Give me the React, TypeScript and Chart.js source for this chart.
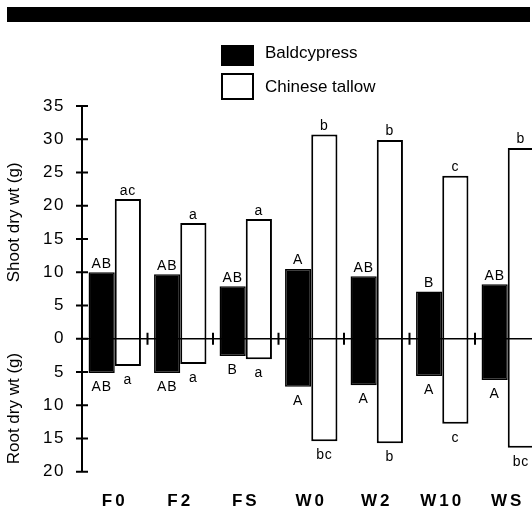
import React, { useEffect, useRef } from "react";
import { Chart, registerables } from "chart.js";

Chart.register(...registerables);

const groups = ["F0", "F2", "FS", "W0", "W2", "W10", "WS"];
const seriesNames = ["Baldcypress", "Chinese tallow"];
const shootBaldcypress = [10, 9.7, 7.9, 10.5, 9.4, 7.1, 8.2];
const rootBaldcypress = [5.15, 5.15, 2.6, 7.2, 7.0, 5.6, 6.2];
const shootTallow = [21, 17.4, 18, 30.7, 29.9, 24.5, 28.7];
const rootTallow = [4.1, 3.8, 3.1, 15.4, 15.7, 12.8, 16.4];
const shootLettersBaldcypress = ["AB", "AB", "AB", "A", "AB", "B", "AB"];
const shootLettersTallow = ["ac", "a", "a", "b", "b", "c", "b"];
const rootLettersBaldcypress = ["AB", "AB", "B", "A", "A", "A", "A"];
const rootLettersTallow = ["a", "a", "a", "bc", "b", "c", "bc"];
const yMin = -20;
const yMax = 35;
const yStep = 5;
const yTitles = ["Shoot dry wt (g)", "Root dry wt (g)"];

const FONT = "'Liberation Sans', Arial, Helvetica, sans-serif";

const decorPlugin = {
  id: "decor",
  beforeDraw(chart: any) {
    const ctx = chart.ctx;
    ctx.letterSpacing = "1.5px";
    ctx.save();
    ctx.fillStyle = "#000";
    ctx.fillRect(7, 7, 523, 15);
    ctx.restore();
  },
  afterDatasetsDraw(chart: any) {
    const { ctx, chartArea } = chart;
    const x = chart.scales.x;
    const y = chart.scales.y;
    ctx.save();
    ctx.letterSpacing = "0px";
    ctx.strokeStyle = "#000";
    const y0 = y.getPixelForValue(0);
    ctx.lineWidth = 1.5;
    ctx.beginPath();
    ctx.moveTo(chartArea.left, y0);
    ctx.lineTo(chartArea.right + 30, y0);
    ctx.stroke();
    const half = (x.getPixelForValue(1) - x.getPixelForValue(0)) / 2;
    ctx.lineWidth = 2;
    ctx.beginPath();
    for (let i = 0; i < groups.length; i++) {
      const px = x.getPixelForValue(i) + half;
      ctx.moveTo(px, y0 - 6);
      ctx.lineTo(px, y0 + 6);
    }
    y.ticks.forEach((t: any) => {
      const py = y.getPixelForValue(t.value);
      ctx.moveTo(chartArea.left - 6, py);
      ctx.lineTo(chartArea.left + 6, py);
    });
    ctx.stroke();

    ctx.fillStyle = "#000";
    ctx.font = `14px ${FONT}`;
    ctx.letterSpacing = "0.8px";
    ctx.textAlign = "center";
    ctx.textBaseline = "alphabetic";
    const sets = [
      { meta: chart.getDatasetMeta(0), shoot: shootBaldcypress, root: rootBaldcypress, sl: shootLettersBaldcypress, rl: rootLettersBaldcypress },
      { meta: chart.getDatasetMeta(1), shoot: shootTallow, root: rootTallow, sl: shootLettersTallow, rl: rootLettersTallow },
    ];
    sets.forEach((s) => {
      s.meta.data.forEach((el: any, i: number) => {
        const cx = el.x;
        const top = y.getPixelForValue(s.shoot[i]);
        const bottom = y.getPixelForValue(-s.root[i]);
        ctx.fillText(s.sl[i], cx, top - 4.5);
        ctx.fillText(s.rl[i], cx, bottom + 18);
      });
    });
    ctx.restore();
    ctx.letterSpacing = "3px";
  },
  afterDraw(chart: any) {
    const ctx = chart.ctx;
    const y = chart.scales.y;
    ctx.letterSpacing = "0px";
    ctx.save();
    ctx.fillStyle = "#000";
    ctx.strokeStyle = "#000";
    // legend
    const ds = chart.data.datasets;
    ctx.fillStyle = ds[0].backgroundColor;
    ctx.fillRect(221, 45, 33, 21);
    ctx.fillStyle = ds[1].backgroundColor;
    ctx.fillRect(222, 74, 31, 25);
    ctx.lineWidth = 2;
    ctx.strokeRect(222, 74, 31, 25);
    ctx.fillStyle = "#000";
    ctx.font = `17px ${FONT}`;
    ctx.textAlign = "left";
    ctx.textBaseline = "middle";
    ctx.fillText(ds[0].label, 265, 53);
    ctx.fillText(ds[1].label, 265, 87);
    // y titles
    ctx.textAlign = "center";
    const titleVals = [yMax / 2, yMin / 2 - 0.5];
    yTitles.forEach((t, i) => {
      ctx.save();
      ctx.translate(14, y.getPixelForValue(titleVals[i]));
      ctx.rotate(-Math.PI / 2);
      ctx.fillText(t, 0, 0);
      ctx.restore();
    });
    ctx.restore();
  },
};

export default function App() {
  const ref = useRef<HTMLCanvasElement | null>(null);
  useEffect(() => {
    if (!ref.current) return;
    const chart = new Chart(ref.current, {
      type: "bar",
      data: {
        labels: groups,
        datasets: [
          {
            label: seriesNames[0],
            data: shootBaldcypress.map((s, i) => [-rootBaldcypress[i], s]) as any,
            backgroundColor: "#000",
            borderColor: "#000",
            borderWidth: 1.5,
            borderSkipped: false,
            categoryPercentage: 0.8,
            barPercentage: 1,
          },
          {
            label: seriesNames[1],
            data: shootTallow.map((s, i) => [-rootTallow[i], s]) as any,
            backgroundColor: "#fff",
            borderColor: "#000",
            borderWidth: 2,
            borderSkipped: false,
            categoryPercentage: 0.8,
            barPercentage: 1,
          },
        ],
      },
      options: {
        responsive: false,
        animation: false,
        devicePixelRatio: 1,
        layout: { padding: { top: 106, right: 19.5, left: 0, bottom: 0 } },
        plugins: { legend: { display: false }, tooltip: { enabled: false } },
        scales: {
          x: {
            type: "category",
            grid: { display: false },
            border: { display: false },
            ticks: {
              z: 1,
              color: "#000",
              font: { family: FONT, size: 17, weight: "bold" },
              padding: 11,
              maxRotation: 0,
              autoSkip: false,
            },
            afterFit: (s: any) => {
              s.height = 40.25;
            },
          },
          y: {
            min: yMin,
            max: yMax,
            grid: { display: false },
            border: { display: true, color: "#000", width: 2 },
            ticks: {
              stepSize: yStep,
              color: "#000",
              font: { family: FONT, size: 17 },
              padding: 9,
              callback: (v: any) => String(Math.abs(Number(v))),
            },
            afterFit: (s: any) => {
              s.width = 82;
            },
          },
        },
      },
      plugins: [decorPlugin],
    } as any);
    return () => chart.destroy();
  }, []);
  return (
    <div
      style={{
        position: "fixed",
        left: 0,
        top: 0,
        width: 532,
        height: 512,
        overflow: "hidden",
        background: "#fff",
      }}
    >
      <canvas ref={ref} width={560} height={512} style={{ display: "block" }} />
    </div>
  );
}
